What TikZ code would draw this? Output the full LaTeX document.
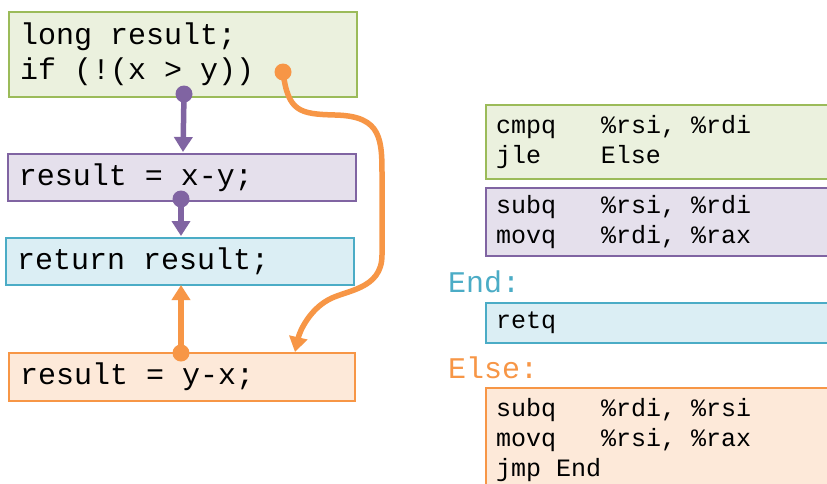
\documentclass[tikz,border=0pt]{standalone}
\usepackage{fontspec}
\setmonofont{Liberation Mono}
\usetikzlibrary{arrows.meta}
\definecolor{gfill}{HTML}{EBF1DE}\definecolor{gline}{HTML}{9BBB59}
\definecolor{pfill}{HTML}{E5E0EC}\definecolor{pline}{HTML}{8064A2}
\definecolor{bfill}{HTML}{DBEEF4}\definecolor{bline}{HTML}{4BACC6}
\definecolor{ofill}{HTML}{FDE9D9}\definecolor{oline}{HTML}{F79646}
\tikzset{
  codebox/.style={draw, line width=2pt, anchor=north west, align=flush left, inner xsep=11pt, inner ysep=0pt,
    text width=326pt, font=\ttfamily\fontsize{30}{35}\selectfont, execute at begin node={\spaceskip=0pt\xspaceskip=0pt}},
  asmbox/.style={draw, line width=2pt, anchor=north west, align=flush left, inner xsep=10pt, inner ysep=0pt,
    text width=360pt, font=\ttfamily\fontsize{25}{30}\selectfont, execute at begin node={\spaceskip=0pt\xspaceskip=0pt}},
  lbl/.style={anchor=west, inner sep=0pt, font=\ttfamily\fontsize{30}{35}\selectfont},
  flow/.style={line width=5.5pt, -{Triangle[width=18pt,length=15pt]}},
  dot/.style={circle, fill, inner sep=0pt, minimum size=17pt},
}
\begin{document}
\begin{tikzpicture}[x=1pt,y=-1pt]
\clip (0,0) rectangle (827,483);
\fill[white] (0,0) rectangle (827,483);
% left boxes
\node[codebox, fill=gfill, draw=gline, minimum height=85pt] (g1) at (8,11)
  {long result;\\if (!(x > y))};
\node[codebox, fill=pfill, draw=pline, minimum height=47pt] (p1) at (7,153)
  {result = x-y;};
\node[codebox, fill=bfill, draw=bline, minimum height=47pt] (b1) at (5,237)
  {return result;};
\node[codebox, fill=ofill, draw=oline, minimum height=48pt, text width=324pt] (o1) at (8,352)
  {result = y-x;};
% right boxes
\node[asmbox, fill=gfill, draw=gline, minimum height=74pt] (g2) at (485,104)
  {cmpq\hspace{1.8em}\%rsi, \%rdi\\jle\hspace{2.4em}Else};
\node[asmbox, fill=pfill, draw=pline, minimum height=68pt] (p2) at (485,187)
  {subq\hspace{1.8em}\%rsi, \%rdi\\movq\hspace{1.8em}\%rdi, \%rax};
\node[lbl, text=bline] (endl) at (448,282) {End:};
\node[asmbox, fill=bfill, draw=bline, minimum height=40pt] (b2) at (485,302) {retq};
\node[lbl, text=oline] (elsel) at (448,368) {Else:};
\node[asmbox, fill=ofill, draw=oline, minimum height=104pt] (o2) at (485,387)
  {subq\hspace{1.8em}\%rdi, \%rsi\\movq\hspace{1.8em}\%rsi, \%rax\\jmp End};
% connector points
\coordinate (a1) at (184,94);
\coordinate (a1e) at (183,152);
\coordinate (a2) at (181,199);
\coordinate (a2e) at (181,236);
\coordinate (a3) at (181,353);
\coordinate (a3e) at (181,285);
\coordinate (a4) at (283,72);
\coordinate (a4e) at (295,352);
% connectors
\draw[flow, pline] (a1) -- (a1e);
\node[dot, pline] (d1) at (a1) {};
\draw[flow, pline] (a2) -- (a2e);
\node[dot, pline] (d2) at (a2) {};
\draw[flow, oline] (a3) -- (a3e);
\node[dot, oline] (d3) at (a3) {};
\draw[flow, oline] (a4) .. controls (288,112) and (300,114) .. (335,115)
  .. controls (383,116) and (382,140) .. (382,180) -- (382,255)
  .. controls (382,290) and (345,290) .. (328,300)
  .. controls (310,310) and (300,330) .. (a4e);
\node[dot, oline] (d4) at (a4) {};
\end{tikzpicture}
\end{document}
